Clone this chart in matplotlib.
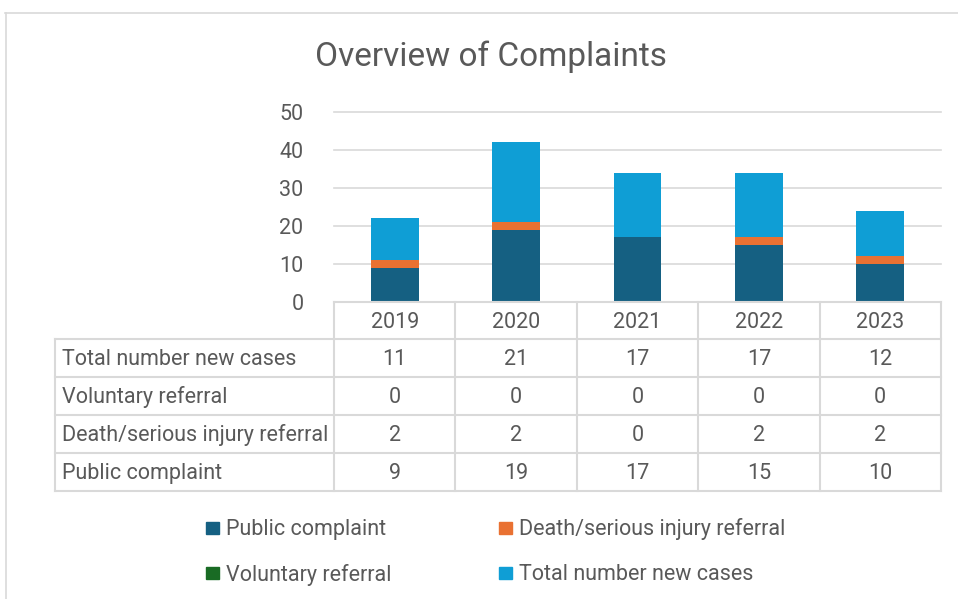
import matplotlib
matplotlib.use("Agg")
import matplotlib.pyplot as plt
from matplotlib.lines import Line2D
from matplotlib.patches import Rectangle
import numpy as np

plt.rcParams['font.family'] = ['Roboto', 'DejaVu Sans']

# data
years = ["2019", "2020", "2021", "2022", "2023"]
public_complaint = [9, 19, 17, 15, 10]
death_injury = [2, 2, 0, 2, 2]
voluntary = [0, 0, 0, 0, 0]
total_new = [11, 21, 17, 17, 12]
y_ticks = [0, 10, 20, 30, 40, 50]

series = [
    ("Public complaint", public_complaint, "#156082"),
    ("Death/serious injury referral", death_injury, "#E97132"),
    ("Voluntary referral", voluntary, "#196B24"),
    ("Total number new cases", total_new, "#0F9ED5"),
]
table_rows = ["Total number new cases", "Voluntary referral",
              "Death/serious injury referral", "Public complaint"]

W, H = 958, 599
TXT = "#595959"
GRID = "#d9d9d9"
FS = 15.5
DY = 1.5  # nudge text down a little so it sits centred in the cells

fig = plt.figure(figsize=(W / 100, H / 100), dpi=100)


def fx(px):
    return px / W


def fy(py):
    return 1 - py / H


# outer chart border
fig.add_artist(Line2D([fx(5), fx(958)], [fy(13), fy(13)], color=GRID, lw=1.2))
fig.add_artist(Line2D([fx(6), fx(6)], [fy(13), fy(599)], color=GRID, lw=1.2))

fig.text(fx(491), fy(57), "Overview of Complaints", ha="center", va="center",
         fontsize=24, color=TXT)

# plot area
ax_l, ax_r, ax_t, ax_b = 334, 941, 112, 302
ax = fig.add_axes([fx(ax_l), fy(ax_b), fx(ax_r - ax_l), (ax_b - ax_t) / H])
x = np.arange(len(years))
bottom = np.zeros(len(years))
for name, vals, col in series:
    ax.bar(x, vals, width=0.395, bottom=bottom, color=col, label=name, zorder=3)
    bottom += np.array(vals)

ax.set_xlim(-0.5, len(years) - 0.5)
ax.set_ylim(0, 50)
ax.set_yticks(y_ticks)
ax.set_yticklabels([str(t) for t in y_ticks])
ax.tick_params(axis="y", length=0, pad=22, labelsize=FS, labelcolor=TXT)
ax.set_xticks([])
ax.grid(axis="y", color=GRID, lw=1.2, zorder=0)
for gl in ax.get_ygridlines():
    gl.set_clip_on(False)
for s in ax.spines.values():
    s.set_visible(False)
ax.patch.set_alpha(0)

# data table
col_edges = np.linspace(ax_l, ax_r, len(years) + 1)
row_edges = [302, 339, 377, 415, 453, 491]
hdr_left = 55

# horizontal lines
fig.add_artist(Line2D([fx(ax_l), fx(ax_r)], [fy(row_edges[0])] * 2, color=GRID, lw=1.5))
for r in row_edges[1:]:
    fig.add_artist(Line2D([fx(hdr_left), fx(ax_r)], [fy(r)] * 2, color=GRID, lw=1.5))
# vertical lines
fig.add_artist(Line2D([fx(hdr_left)] * 2, [fy(row_edges[1]), fy(row_edges[-1])], color=GRID, lw=1.5))
for c in col_edges:
    fig.add_artist(Line2D([fx(c)] * 2, [fy(row_edges[0]), fy(row_edges[-1])], color=GRID, lw=1.5))

col_centers = (col_edges[:-1] + col_edges[1:]) / 2
for cx, yr in zip(col_centers, years):
    fig.text(fx(cx), fy((row_edges[0] + row_edges[1]) / 2 + DY), yr, ha="center",
             va="center", fontsize=FS, color=TXT)

row_data = {name: vals for name, vals, _ in series}
for i, name in enumerate(table_rows):
    cy = (row_edges[i + 1] + row_edges[i + 2]) / 2 + DY
    fig.text(fx(62), fy(cy), name, ha="left", va="center", fontsize=FS, color=TXT)
    for cx, v in zip(col_centers, row_data[name]):
        fig.text(fx(cx), fy(cy), str(v), ha="center", va="center", fontsize=FS, color=TXT)

# legend
legend_pos = [(206, 528), (499, 528), (206, 573), (499, 573)]
for (name, _, col), (lx, ly) in zip(series, legend_pos):
    fig.add_artist(Rectangle((fx(lx), fy(ly + 6)), fx(13), 12 / H, color=col))
    fig.text(fx(lx + 20), fy(ly + DY), name, ha="left", va="center", fontsize=FS, color=TXT)

fig.savefig("out.png", dpi=100)
